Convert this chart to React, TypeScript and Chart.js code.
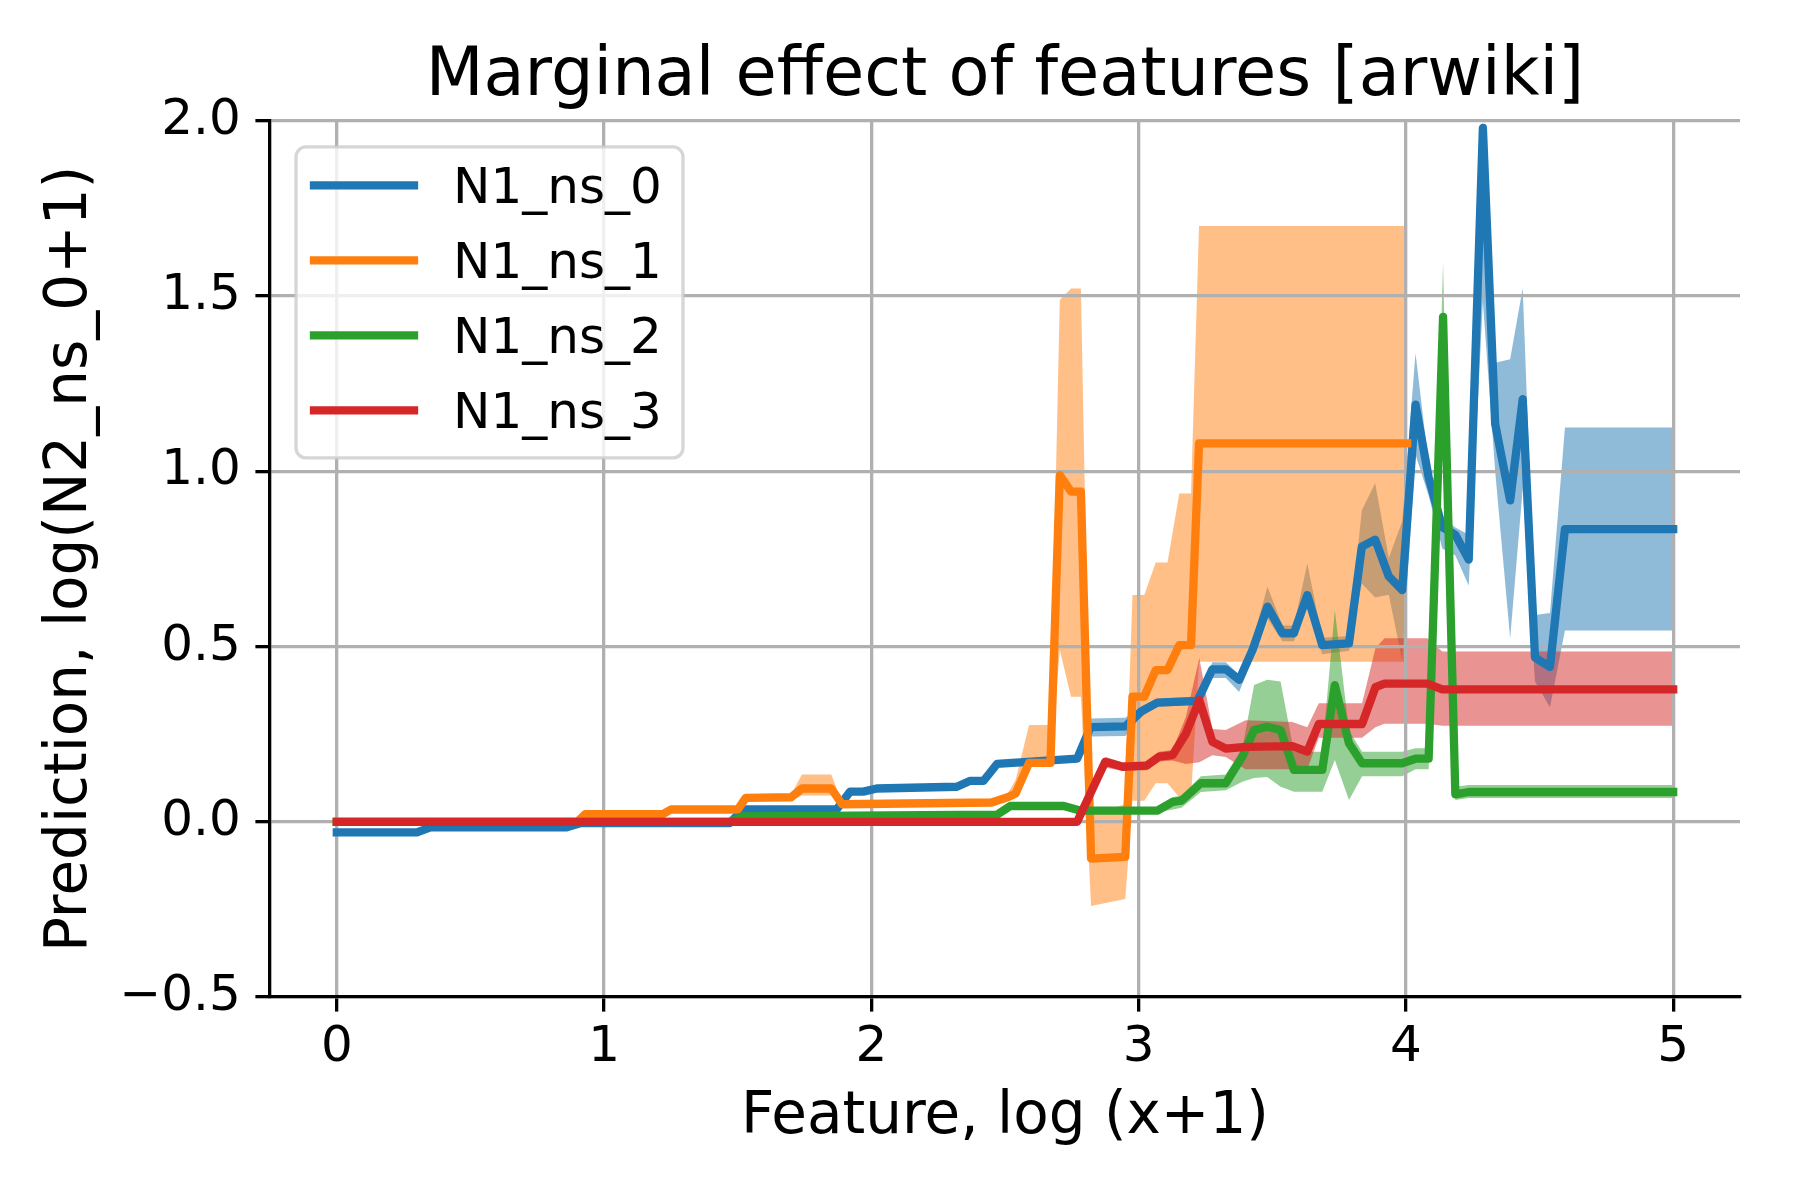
import { useEffect, useRef } from "react";
import { Chart, registerables } from "chart.js";

Chart.register(...registerables);

// ── Data ───────────────────────────────────────────────────────────────────
// N1_ns_0
const X0 = [0, 0.3, 0.35, 0.86, 0.91, 1.47, 1.52, 1.87, 1.92, 1.97, 2.02, 2.32, 2.37, 2.42, 2.47, 2.77, 2.82, 2.95, 3.01, 3.07, 3.22, 3.276, 3.326, 3.376, 3.426, 3.482, 3.538, 3.581, 3.631, 3.687, 3.787, 3.835, 3.885, 3.936, 3.986, 4.036, 4.085, 4.136, 4.185, 4.235, 4.288, 4.334, 4.39, 4.437, 4.483, 4.539, 4.595, 5.0];
const MID0 = [-0.03, -0.03, -0.016, -0.016, -0.004, -0.004, 0.035, 0.035, 0.086, 0.086, 0.095, 0.1, 0.117, 0.117, 0.165, 0.18, 0.27, 0.272, 0.315, 0.34, 0.345, 0.435, 0.435, 0.405, 0.49, 0.614, 0.538, 0.538, 0.647, 0.504, 0.509, 0.785, 0.805, 0.7, 0.661, 1.19, 0.983, 0.841, 0.819, 0.748, 1.98, 1.135, 0.917, 1.206, 0.469, 0.442, 0.835, 0.835];
const LO0 = [-0.036, -0.036, -0.021, -0.021, -0.009, -0.009, 0.03, 0.03, 0.081, 0.081, 0.09, 0.095, 0.112, 0.112, 0.159, 0.174, 0.243, 0.245, 0.3, 0.328, 0.333, 0.41, 0.41, 0.37, 0.465, 0.58, 0.515, 0.515, 0.61, 0.478, 0.488, 0.68, 0.64, 0.648, 0.46, 1.048, 0.93, 0.78, 0.76, 0.674, 1.485, 1.0, 0.524, 0.95, 0.4, 0.327, 0.546, 0.546];
const HI0 = [-0.024, -0.024, -0.011, -0.011, 0.001, 0.001, 0.04, 0.04, 0.091, 0.091, 0.1, 0.105, 0.122, 0.122, 0.171, 0.186, 0.295, 0.297, 0.33, 0.352, 0.357, 0.455, 0.455, 0.42, 0.515, 0.671, 0.56, 0.56, 0.737, 0.525, 0.53, 0.889, 0.966, 0.753, 0.857, 1.337, 1.02, 0.87, 0.84, 0.819, 2.0, 1.31, 1.32, 1.523, 0.59, 0.596, 1.125, 1.125];

// N1_ns_1
const X1 = [0, 0.9, 0.93, 1.22, 1.25, 1.5, 1.53, 1.7, 1.74, 1.85, 1.89, 2.45, 2.51, 2.54, 2.59, 2.67, 2.705, 2.747, 2.784, 2.822, 2.95, 2.977, 3.021, 3.064, 3.108, 3.152, 3.196, 3.226, 4.005];
const MID1 = [0, 0, 0.022, 0.022, 0.035, 0.035, 0.068, 0.07, 0.095, 0.095, 0.05, 0.055, 0.07, 0.081, 0.168, 0.168, 0.989, 0.942, 0.942, -0.105, -0.1, 0.357, 0.357, 0.433, 0.433, 0.504, 0.504, 1.08, 1.08];
const LO1 = [-0.004, -0.004, 0.017, 0.017, 0.03, 0.03, 0.06, 0.062, 0.075, 0.075, 0.045, 0.05, 0.062, 0.072, 0.16, 0.16, 0.49, 0.357, 0.357, -0.24, -0.22, 0.06, 0.06, 0.11, 0.11, 0.07, 0.07, 0.457, 0.457];
const HI1 = [0.004, 0.004, 0.027, 0.027, 0.04, 0.04, 0.075, 0.078, 0.135, 0.135, 0.055, 0.06, 0.08, 0.12, 0.276, 0.276, 1.489, 1.522, 1.522, 0.02, 0.05, 0.647, 0.647, 0.74, 0.74, 0.937, 0.937, 1.7, 1.7];

// N1_ns_2
const X2 = [0, 1.47, 1.52, 2.47, 2.52, 2.72, 2.78, 3.07, 3.127, 3.16, 3.233, 3.326, 3.388, 3.432, 3.481, 3.531, 3.581, 3.687, 3.734, 3.787, 3.836, 3.986, 4.036, 4.085, 4.139, 4.185, 4.235, 5.0];
const MID2 = [0, 0, 0.015, 0.02, 0.045, 0.045, 0.032, 0.032, 0.057, 0.06, 0.11, 0.11, 0.186, 0.262, 0.271, 0.262, 0.148, 0.148, 0.39, 0.224, 0.167, 0.167, 0.18, 0.18, 1.441, 0.078, 0.085, 0.085];
const LO2 = [-0.004, -0.004, 0.01, 0.015, 0.037, 0.037, 0.026, 0.026, 0.035, 0.04, 0.085, 0.09, 0.114, 0.125, 0.128, 0.1, 0.086, 0.086, 0.176, 0.062, 0.13, 0.13, 0.15, 0.15, 1.3, 0.062, 0.068, 0.068];
const HI2 = [0.004, 0.004, 0.02, 0.025, 0.053, 0.053, 0.038, 0.038, 0.07, 0.075, 0.13, 0.135, 0.21, 0.39, 0.405, 0.4, 0.2, 0.2, 0.604, 0.26, 0.2, 0.2, 0.21, 0.21, 1.594, 0.1, 0.105, 0.105];

// N1_ns_3
const X3 = [0, 2.77, 2.875, 2.94, 3.03, 3.077, 3.127, 3.177, 3.227, 3.276, 3.326, 3.4, 3.575, 3.631, 3.674, 3.836, 3.886, 3.92, 4.08, 4.136, 5.0];
const MID3 = [0, 0, 0.171, 0.157, 0.16, 0.186, 0.19, 0.252, 0.347, 0.228, 0.209, 0.214, 0.216, 0.2, 0.279, 0.279, 0.384, 0.394, 0.394, 0.378, 0.378];
const LO3 = [-0.004, -0.004, 0.155, 0.145, 0.147, 0.172, 0.175, 0.165, 0.17, 0.19, 0.185, 0.15, 0.15, 0.15, 0.24, 0.24, 0.27, 0.28, 0.28, 0.274, 0.274];
const HI3 = [0.004, 0.004, 0.185, 0.17, 0.172, 0.2, 0.205, 0.3, 0.467, 0.265, 0.262, 0.29, 0.285, 0.27, 0.338, 0.338, 0.495, 0.524, 0.524, 0.486, 0.486];

const LABELS = ["N1_ns_0", "N1_ns_1", "N1_ns_2", "N1_ns_3"];
const COLORS = ["#1f77b4", "#ff7f0e", "#2ca02c", "#d62728"];
const BAND_COLORS = ["rgba(31,119,180,0.5)", "rgba(255,127,14,0.5)", "rgba(44,160,44,0.5)", "rgba(214,39,40,0.5)"];
const X_TICKS = [0, 1, 2, 3, 4, 5];
const Y_TICKS = [-0.5, 0, 0.5, 1, 1.5, 2];

const SERIES = [
  { x: X0, mid: MID0, lo: LO0, hi: HI0 },
  { x: X1, mid: MID1, lo: LO1, hi: HI1 },
  { x: X2, mid: MID2, lo: LO2, hi: HI2 },
  { x: X3, mid: MID3, lo: LO3, hi: HI3 },
];

const FONT = "'DejaVu Sans', 'Liberation Sans', sans-serif";
const LINE_W = 8.3;
const pts = (xs: number[], ys: number[]) => xs.map((x, i) => ({ x, y: ys[i] }));

// ── Legend (matplotlib-like framed box, upper left) ────────────────────────
const boxLegend = {
  id: "boxLegend",
  afterDraw(chart: Chart) {
    const { ctx, chartArea } = chart;
    const x = chartArea.left + 26;
    const y = chartArea.top + 26;
    ctx.save();
    ctx.beginPath();
    ctx.roundRect(x, y, 387, 311, 10);
    ctx.fillStyle = "rgba(255,255,255,0.8)";
    ctx.fill();
    ctx.lineWidth = 3.3;
    ctx.strokeStyle = "rgba(204,204,204,0.8)";
    ctx.stroke();
    LABELS.forEach((label, i) => {
      const cy = y + 38.5 + i * 75;
      ctx.beginPath();
      ctx.moveTo(x + 18, cy);
      ctx.lineTo(x + 118, cy);
      ctx.strokeStyle = COLORS[i];
      ctx.lineWidth = LINE_W;
      ctx.lineCap = "square";
      ctx.stroke();
      ctx.fillStyle = "#000";
      ctx.font = `50px ${FONT}`;
      ctx.textBaseline = "alphabetic";
      ctx.textAlign = "left";
      ctx.fillText(label, x + 157, cy + 18);
    });
    ctx.restore();
  },
};

// ── Chart ──────────────────────────────────────────────────────────────────
export default function App() {
  const canvasRef = useRef<HTMLCanvasElement>(null);

  useEffect(() => {
    if (!canvasRef.current) return;

    // lines first (indices 0-3); bands after, so no fill ever targets index 0
    const lines = SERIES.map((s, i) => ({
      label: LABELS[i],
      data: pts(s.x, s.mid),
      borderColor: COLORS[i],
      borderWidth: LINE_W,
      borderJoinStyle: "round" as const,
      borderCapStyle: "square" as const,
      pointRadius: 0,
      fill: false,
      tension: 0,
      order: 4 - i,
    }));
    // lower edge, then upper edge filled back to it ("-1")
    const bands = SERIES.flatMap((s, i) => [
      {
        data: pts(s.x, s.lo),
        borderColor: "transparent",
        borderWidth: 0,
        pointRadius: 0,
        fill: false,
        order: 4 - i,
      },
      {
        data: pts(s.x, s.hi),
        borderColor: "transparent",
        borderWidth: 0,
        pointRadius: 0,
        backgroundColor: BAND_COLORS[i],
        fill: "-1",
        order: 4 - i,
      },
    ]);

    const axisGrid = {
      color: "#b0b0b0",
      lineWidth: 3.3,
      tickColor: "#000",
      tickWidth: 3.3,
      tickLength: 14.6,
      drawTicks: true,
    };

    const chart = new Chart(canvasRef.current, {
      type: "line",
      data: { datasets: [...lines, ...bands] as any },
      plugins: [boxLegend],
      options: {
        responsive: false,
        devicePixelRatio: 1,
        animation: false,
        events: [],
        layout: { padding: { left: 0, right: 60, top: 0, bottom: 0 } },
        plugins: {
          legend: { display: false },
          tooltip: { enabled: false },
          filler: { drawTime: "beforeDraw" },
          title: {
            display: true,
            text: "Marginal effect of features [arwiki]",
            color: "#000",
            fullSize: false,
            font: { family: FONT, size: 67, weight: "normal" },
            padding: { top: 37, bottom: 3.5 },
          },
        },
        scales: {
          x: {
            type: "linear",
            min: -0.25,
            max: 5.25,
            afterBuildTicks: (s: any) => { s.ticks = X_TICKS.map((v) => ({ value: v })); },
            afterFit: (s: any) => { s.height = 203; },
            grid: axisGrid,
            border: { display: true, color: "#000", width: 3.3, z: 1 },
            ticks: {
              color: "#000",
              font: { family: FONT, size: 50 },
              padding: 6,
              maxRotation: 0,
              minRotation: 0,
              autoSkip: false,
              callback: (v: any) => String(v),
            },
            title: {
              display: true,
              text: "Feature, log (x+1)",
              color: "#000",
              font: { family: FONT, size: 58 },
              padding: { top: 0, bottom: 47 },
            },
          },
          y: {
            type: "linear",
            min: -0.5,
            max: 2.0,
            afterBuildTicks: (s: any) => { s.ticks = Y_TICKS.map((v) => ({ value: v })); },
            afterFit: (s: any) => { s.width = 270; },
            grid: axisGrid,
            border: { display: true, color: "#000", width: 3.3, z: 1 },
            ticks: {
              color: "#000",
              font: { family: FONT, size: 50 },
              padding: 14.6,
              callback: (v: any) => (v < 0 ? "\u2212" + Math.abs(v).toFixed(1) : Number(v).toFixed(1)),
            },
            title: {
              display: true,
              text: "Prediction, log(N2_ns_0+1)",
              color: "#000",
              font: { family: FONT, size: 58 },
              padding: { top: 36, bottom: 0 },
            },
          },
        },
      },
    });

    return () => { chart.destroy(); };
  }, []);

  return (
    <div style={{ position: "absolute", left: 0, top: 0, width: 1800, height: 1200, background: "#fff" }}>
      <canvas ref={canvasRef} width={1800} height={1200} />
    </div>
  );
}
